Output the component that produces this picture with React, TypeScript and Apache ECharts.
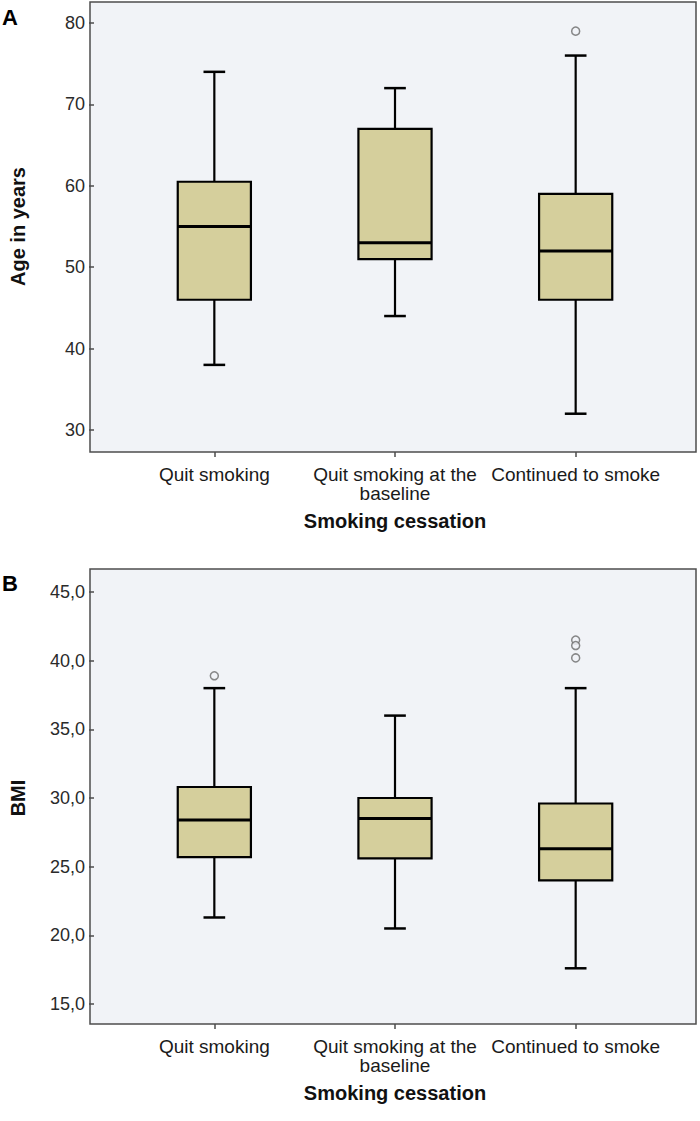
import React, { useEffect, useRef } from "react";
import * as echarts from "echarts";

const categories = ["Quit smoking", "Quit smoking at the\nbaseline", "Continued to smoke"];
// [low whisker, Q1, median, Q3, high whisker]
const ageBoxes = [
  [38, 46, 55, 60.5, 74],
  [44, 51, 53, 67, 72],
  [32, 46, 52, 59, 76],
];
const ageOutliers = [[2, 79]];
const bmiBoxes = [
  [21.3, 25.7, 28.4, 30.8, 38],
  [20.5, 25.6, 28.5, 30.0, 36],
  [17.6, 24.0, 26.3, 29.6, 38],
];
const bmiOutliers = [
  [0, 38.9],
  [2, 41.5],
  [2, 41.1],
  [2, 40.2],
];
const ageTicks = { min: 30, max: 80, interval: 10 };
const bmiTicks = { min: 15, max: 45, interval: 5 };

const FONT = "Liberation Sans";
const BOX_FILL = "#d5cf9c";
const PLOT_BG = "#f1f3f7";
const FRAME = "#4d4d4d";

function renderBox(params: any, api: any) {
  const idx = api.value(0);
  const low = api.coord([idx, api.value(1)]);
  const q1 = api.coord([idx, api.value(2)]);
  const med = api.coord([idx, api.value(3)]);
  const q3 = api.coord([idx, api.value(4)]);
  const high = api.coord([idx, api.value(5)]);
  const band = api.size([1, 0])[0];
  const bw = band * 0.405;
  const cw = band * 0.12;
  const x = low[0];
  const ls = { stroke: "#000", lineWidth: 2.2 };
  return {
    type: "group",
    children: [
      { type: "line", shape: { x1: x, y1: high[1], x2: x, y2: q3[1] }, style: ls },
      { type: "line", shape: { x1: x, y1: q1[1], x2: x, y2: low[1] }, style: ls },
      { type: "line", shape: { x1: x - cw / 2, y1: high[1], x2: x + cw / 2, y2: high[1] }, style: { stroke: "#000", lineWidth: 2.5 } },
      { type: "line", shape: { x1: x - cw / 2, y1: low[1], x2: x + cw / 2, y2: low[1] }, style: { stroke: "#000", lineWidth: 2.5 } },
      {
        type: "rect",
        shape: { x: x - bw / 2, y: q3[1], width: bw, height: q1[1] - q3[1] },
        style: { fill: BOX_FILL, stroke: "#000", lineWidth: 2.2 },
      },
      { type: "line", shape: { x1: x - bw / 2, y1: med[1], x2: x + bw / 2, y2: med[1] }, style: { stroke: "#000", lineWidth: 3 } },
    ],
  };
}

export default function App() {
  const ref = useRef<HTMLDivElement>(null);
  useEffect(() => {
    if (!ref.current) return;
    const chart = echarts.init(ref.current, null, { renderer: "svg" });
    const xAxisCommon = (gridIndex: number, offset: number) => ({
      type: "category",
      gridIndex,
      data: categories,
      offset,
      axisLine: { show: false },
      axisTick: { show: true, alignWithLabel: true, length: 5, inside: false, lineStyle: { color: FRAME, width: 1.5 } },
      axisLabel: { color: "#1a1a1a", fontFamily: FONT, fontSize: 19, lineHeight: 19, margin: 13, interval: 0 },
      name: "Smoking cessation",
      nameLocation: "middle",
      nameGap: 59,
      nameTextStyle: { color: "#111", fontFamily: FONT, fontSize: 20, fontWeight: "bold" },
      splitLine: { show: false },
    });
    const yAxisCommon = (gridIndex: number, name: string, t: any, fmt: (v: number) => string) => ({
      type: "value",
      gridIndex,
      min: t.min,
      max: t.max,
      interval: t.interval,
      offset: 30,
      axisLine: { show: false },
      axisTick: { show: true, length: 5, lineStyle: { color: FRAME, width: 1.5 } },
      axisLabel: { color: "#2a2a2a", fontFamily: FONT, fontSize: 18, margin: 9, formatter: fmt },
      splitLine: { show: false },
      name,
      nameLocation: "middle",
      nameGap: 66,
      nameTextStyle: { color: "#111", fontFamily: FONT, fontSize: 20, fontWeight: "bold" },
    });
    chart.setOption({
      animation: false,
      backgroundColor: "#ffffff",
      grid: [
        { left: 120, width: 546, top: 23, height: 407 },
        { left: 120, width: 546, top: 592, height: 412 },
      ],
      graphic: [
        { type: "rect", z: -1, silent: true, shape: { x: 90, y: 2, width: 606, height: 450 }, style: { fill: PLOT_BG, stroke: FRAME, lineWidth: 1.5 } },
        { type: "rect", z: -1, silent: true, shape: { x: 90, y: 569, width: 606, height: 455 }, style: { fill: PLOT_BG, stroke: FRAME, lineWidth: 1.5 } },
        { type: "text", x: 2, y: 6, style: { text: "A", fontFamily: FONT, fontSize: 22, fontWeight: "bold", fill: "#000" } },
        { type: "text", x: 2, y: 572, style: { text: "B", fontFamily: FONT, fontSize: 22, fontWeight: "bold", fill: "#000" } },
      ],
      xAxis: [xAxisCommon(0, 22), xAxisCommon(1, 20)],
      yAxis: [
        yAxisCommon(0, "Age in years", ageTicks, (v: number) => String(v)),
        yAxisCommon(1, "BMI", bmiTicks, (v: number) => v.toFixed(1).replace(".", ",")),
      ],
      series: [
        {
          type: "custom",
          xAxisIndex: 0,
          yAxisIndex: 0,
          renderItem: renderBox,
          encode: { x: 0, y: [1, 2, 3, 4, 5] },
          data: ageBoxes.map((b, i) => [i, ...b]),
          z: 3,
        },
        {
          type: "scatter",
          xAxisIndex: 0,
          yAxisIndex: 0,
          symbol: "circle",
          symbolSize: 8,
          itemStyle: { color: PLOT_BG, borderColor: "#6b6b6b", borderWidth: 1.5 },
          data: ageOutliers,
          z: 4,
        },
        {
          type: "custom",
          xAxisIndex: 1,
          yAxisIndex: 1,
          renderItem: renderBox,
          encode: { x: 0, y: [1, 2, 3, 4, 5] },
          data: bmiBoxes.map((b, i) => [i, ...b]),
          z: 3,
        },
        {
          type: "scatter",
          xAxisIndex: 1,
          yAxisIndex: 1,
          symbol: "circle",
          symbolSize: 8,
          itemStyle: { color: PLOT_BG, borderColor: "#6b6b6b", borderWidth: 1.5 },
          data: bmiOutliers,
          z: 4,
        },
      ],
    });
    return () => chart.dispose();
  }, []);
  return (
    <div
      ref={ref}
      style={{ position: "fixed", left: 0, top: 0, width: 700, height: 1121, background: "#fff" }}
    />
  );
}
